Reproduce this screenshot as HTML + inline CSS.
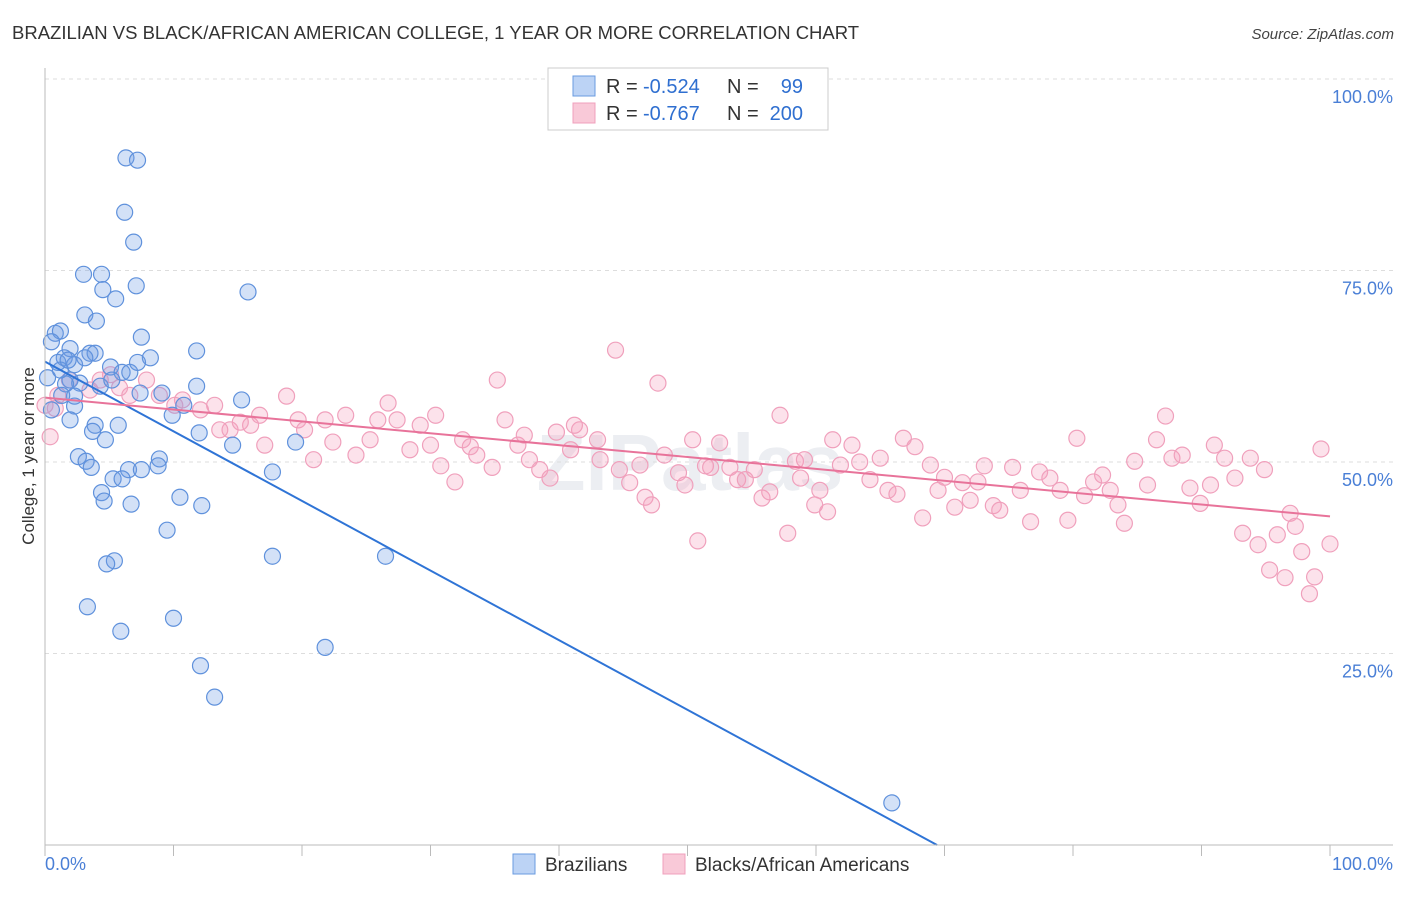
<!DOCTYPE html>
<html><head><meta charset="utf-8"><style>
body{margin:0;background:#fff;font-family:"Liberation Sans",sans-serif;}
svg text{font-family:"Liberation Sans",sans-serif;}
</style></head><body>
<svg id="chart" width="1406" height="892" xmlns="http://www.w3.org/2000/svg">
<text x="12" y="39" font-size="18.5" fill="#333">BRAZILIAN VS BLACK/AFRICAN AMERICAN COLLEGE, 1 YEAR OR MORE CORRELATION CHART</text>
<text x="1394" y="39" font-size="15" fill="#444" text-anchor="end" font-style="italic">Source: ZipAtlas.com</text>
<text transform="translate(34,456) rotate(-90)" font-size="17" fill="#333" text-anchor="middle">College, 1 year or more</text>
<text x="690" y="490" font-size="80" fill="#eceef2" text-anchor="middle" font-weight="bold">ZIPatlas</text>
<g id="grid"></g><g id="pink"></g><g id="blue"></g><g id="lines"></g><g id="axes"></g>
<g>
<rect x="548" y="68" width="280" height="62" fill="#fff" stroke="#ccc"/>
<rect x="573" y="76" width="22" height="20" fill="#bcd3f5" stroke="#6a9be0"/>
<rect x="573" y="103" width="22" height="20" fill="#f9c9d8" stroke="#f0a0bc"/>
<text x="606" y="93" font-size="20" fill="#333">R =</text>
<text x="643" y="93" font-size="20" fill="#2f6fd0">-0.524</text>
<text x="727" y="93" font-size="20" fill="#333">N =</text>
<text x="803" y="93" font-size="20" fill="#2f6fd0" text-anchor="end">99</text>
<text x="606" y="120" font-size="20" fill="#333">R =</text>
<text x="643" y="120" font-size="20" fill="#2f6fd0">-0.767</text>
<text x="727" y="120" font-size="20" fill="#333">N =</text>
<text x="803" y="120" font-size="20" fill="#2f6fd0" text-anchor="end">200</text>
</g>
<g>
<rect x="513" y="854" width="22" height="20" fill="#bcd3f5" stroke="#6a9be0"/>
<text x="545" y="871" font-size="19" fill="#333">Brazilians</text>
<rect x="663" y="854" width="22" height="20" fill="#f9c9d8" stroke="#f0a0bc"/>
<text x="695" y="871" font-size="19" fill="#333">Blacks/African Americans</text>
</g>
</svg>
<script>
const blueX=[6.3,7.2,6.2,6.9,3,4.4,4.5,5.5,7.1,15.8,3.1,4,0.8,1.2,7.5,0.5,1.95,3.5,3.9,11.8,8.2,1.5,1,2.3,5.1,6,6.6,7.2,1.95,2.7,4.3,1.6,5.2,11.8,9.1,2.3,7.4,15.3,10.8,2.3,9.9,1.95,3.9,5.7,3.7,12,4.7,14.6,19.5,2.6,3.2,8.9,3.6,6.5,7.5,8.8,17.7,5.3,6,4.4,10.5,4.6,6.7,12.2,9.5,17.7,26.5,5.4,4.8,3.3,10,5.9,21.8,12.1,13.2,65.9,0.2,0.5,1.2,1.3,3.1,1.8];
const blueY=[89.7,89.4,82.6,78.7,74.5,74.5,72.5,71.3,73,72.2,69.2,68.4,66.8,67.1,66.3,65.7,64.8,64.2,64.2,64.5,63.6,63.6,63,62.7,62.4,61.7,61.7,63,60.7,60.3,59.9,60.2,60.7,59.9,59,58.6,59,58.1,57.4,57.3,56.1,55.5,54.8,54.8,54,53.8,52.9,52.2,52.6,50.7,50.1,50.4,49.3,49,49,49.5,48.7,47.8,47.8,46,45.4,44.9,44.5,44.3,41.1,37.7,37.7,37.1,36.7,31.1,29.6,27.9,25.8,23.4,19.3,5.5,61,56.8,62,58.7,63.6,63.3];
const pinkX=[0.4,0.8,1.9,3.5,5.1,6.6,7.9,8.9,10.7,12.1,13.2,14.4,16,17.1,18.8,19.7,20.9,21.8,22.4,23.4,24.2,25.3,26.7,27.4,28.4,29.2,30.4,30.8,31.9,32.5,33.6,34.8,35.2,35.8,36.8,37.3,38.5,39.3,39.8,40.9,41.6,43,43.2,44.4,44.7,45.5,46.7,47.2,47.7,48.2,49.3,49.8,50.4,50.8,51.4,52.5,53.3,53.9,54.5,55.2,55.8,56.4,57.2,57.8,58.4,58.8,59.9,60.3,60.9,61.3,61.9,62.8,63.4,64.2,65,65.6,66.3,66.8,67.7,68.3,68.9,69.5,70,70.8,71.4,72,72.6,73.1,73.8,74.3,75.3,75.9,76.7,77.4,78.2,79,79.6,80.3,80.9,81.6,82.3,82.9,83.5,84,84.8,85.8,86.5,87.2,87.7,88.5,89.1,89.9,90.7,91,91.8,92.6,93.2,93.8,94.4,94.9,95.3,95.9,96.5,96.9,97.3,97.8,98.4,98.8,99.3,100,0,1,4.3,5.8,10.1,13.6,15.2,16.7,20.2,25.9,30,33.1,37.7,41.2,46.3,51.8,59.1];
const pinkY=[53.3,57,60.7,59.4,61.4,58.7,60.7,58.7,58.1,56.8,57.4,54.2,54.8,52.2,58.6,55.5,50.3,55.5,52.6,56.1,50.9,52.9,57.7,55.5,51.6,54.8,56.1,49.5,47.4,52.9,50.9,49.3,60.7,55.5,52.2,53.5,49,47.9,53.9,51.6,54.2,52.9,50.3,64.6,49,47.3,45.4,44.4,60.3,50.9,48.6,47,52.9,39.7,49.5,52.5,49.3,47.7,47.7,49,45.3,46.1,56.1,40.7,50.1,47.9,44.4,46.3,43.5,52.9,49.6,52.2,50,47.7,50.5,46.3,45.8,53.1,52,42.7,49.6,46.3,48,44.1,47.3,45,47.4,49.5,44.3,43.7,49.3,46.3,42.2,48.7,47.9,46.3,42.4,53.1,45.6,47.4,48.3,46.3,44.4,42,50.1,47,52.9,56,50.5,50.9,46.6,44.6,47,52.2,50.5,47.9,40.7,50.5,39.2,49,35.9,40.5,34.9,43.3,41.6,38.3,32.8,35,51.7,39.3,57.4,58.7,60.7,59.7,57.4,54.2,55.2,56.1,54.2,55.5,52.2,52,50.3,54.8,49.6,49.3,50.3];
const trendIntercepts=[63.1,58.4];
const trendSlopes=[-0.909,-0.155];
const yTicks=[25,50,75,100];
const yTickLabels=["25.0%","50.0%","75.0%","100.0%"];
const NS="http://www.w3.org/2000/svg";
const X0=45,X1=1330,Y0=845,Y100=79;
function sx(v){return X0+(X1-X0)*v/100;}
function sy(v){return Y0-(Y0-Y100)*v/100;}
function mk(t,a,p){const e=document.createElementNS(NS,t);for(const k in a)e.setAttribute(k,a[k]);p.appendChild(e);return e;}
const grid=document.getElementById('grid');
yTicks.forEach((t,i)=>{
 const l=mk('line',{x1:45,x2:1393,y1:sy(t),y2:sy(t),stroke:'#ddd','stroke-dasharray':'4,4'},grid);
 
 
 const tx=mk('text',{x:1393,y:sy(t)+24,'font-size':18,fill:'#4a7fd6','text-anchor':'end'},grid);
 tx.textContent=yTickLabels[i];
 
 
});
const axes=document.getElementById('axes');
mk('line',{x1:45,x2:45,y1:68,y2:845,stroke:'#bbb'},axes);
mk('line',{x1:45,x2:1393,y1:845,y2:845,stroke:'#bbb'},axes);
for(let i=0;i<=10;i++){mk('line',{x1:sx(i*10),x2:sx(i*10),y1:845,y2:856,stroke:'#bbb'},axes);}
const xl=mk('text',{x:45,y:870,'font-size':18,fill:'#4a7fd6'},axes);xl.textContent='0.0%';


const xr=mk('text',{x:1393,y:870,'font-size':18,fill:'#4a7fd6','text-anchor':'end'},axes);xr.textContent='100.0%';


function dots(xs,ys,g,fill,stroke,name){xs.forEach((x,i)=>{
 const c=mk('circle',{cx:sx(x),cy:sy(ys[i]),r:8,fill:fill,stroke:stroke,'stroke-width':1.2},document.getElementById(g));
 
 
});}
dots(pinkX,pinkY,'pink','rgba(244,160,190,0.3)','#f0a0bc','pink-point');
dots(blueX,blueY,'blue','rgba(110,155,230,0.3)','#5f91dc','blue-point');
const lines=document.getElementById('lines');
[['#2f74d6','blue-trend-line'],['#e8739a','pink-trend-line']].forEach((s,i)=>{
 const b=trendIntercepts[i],m=trendSlopes[i];
 let xe=100; if(b+m*100<0) xe=-b/m;
 const l=mk('line',{x1:sx(0),y1:sy(b),x2:sx(xe),y2:sy(b+m*xe),stroke:s[0],'stroke-width':2},lines);
 
 
});
</script>
</body></html>
